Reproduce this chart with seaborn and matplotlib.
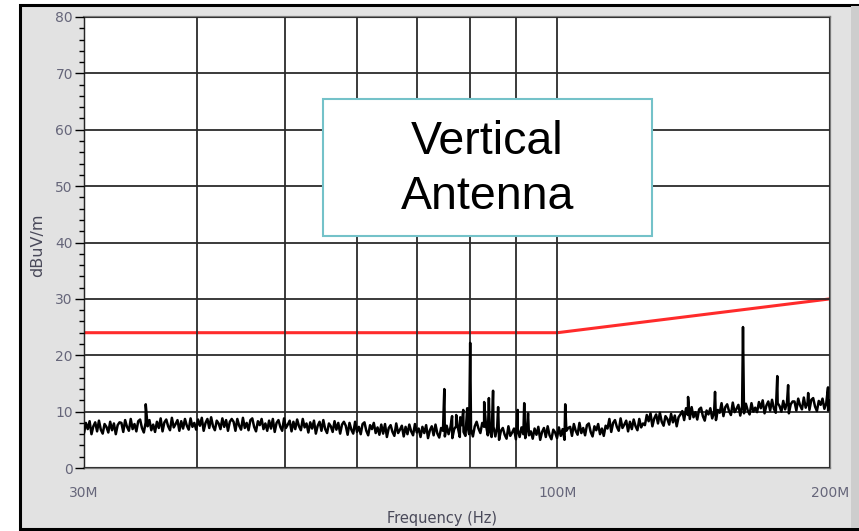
import numpy as np
import pandas as pd
import seaborn as sns
import matplotlib.pyplot as plt
from matplotlib.patches import Rectangle
from matplotlib.ticker import FixedLocator, MultipleLocator, NullFormatter

# measured noise floor (dBuV/m), sweep from 30M to 200M
floor_db = [
    6.2, 8.0, 6.9, 8.3, 6.0, 7.4, 8.1, 6.5, 8.4, 6.8, 6.1, 7.8, 7.3, 6.3, 8.2, 6.7, 7.9, 6.0, 7.6, 8.1,
    8.0, 6.4, 8.5, 7.3, 6.6, 8.7, 6.9, 7.8, 6.5, 8.3, 8.6, 7.1, 6.3, 8.1, 7.4, 8.5, 6.7, 7.7, 6.4, 8.2,
    7.1, 8.8, 6.5, 8.1, 8.6, 7.4, 6.7, 8.9, 7.2, 7.8, 8.5, 6.6, 8.3, 7.0, 8.7, 7.5, 6.8, 8.8, 7.3, 8.0,
    6.8, 8.6, 7.5, 8.9, 6.6, 8.0, 8.7, 7.1, 9.0, 7.4, 6.7, 8.4, 7.9, 6.9, 8.8, 7.3, 8.5, 6.6, 8.2, 8.7,
    8.2, 6.6, 8.7, 7.5, 6.8, 8.9, 7.1, 8.0, 6.7, 8.5, 8.8, 7.3, 6.5, 8.3, 7.6, 8.7, 6.9, 7.9, 6.6, 8.4,
    7.0, 8.7, 6.4, 8.0, 8.5, 7.3, 6.6, 8.8, 7.1, 7.7, 8.4, 6.5, 8.2, 6.9, 8.6, 7.4, 6.7, 8.7, 7.2, 7.9,
    6.3, 8.1, 7.0, 8.4, 6.1, 7.5, 8.2, 6.6, 8.5, 6.9, 6.2, 7.9, 7.4, 6.4, 8.3, 6.8, 8.0, 6.1, 7.7, 8.2,
    7.5, 5.9, 8.0, 6.8, 6.1, 8.2, 6.4, 7.3, 6.0, 7.8, 8.1, 6.6, 5.8, 7.6, 6.9, 8.0, 6.2, 7.2, 5.9, 7.7,
    6.1, 7.8, 5.5, 7.1, 7.6, 6.4, 5.7, 7.9, 6.2, 6.8, 7.5, 5.6, 7.3, 6.0, 7.7, 6.5, 5.8, 7.8, 6.3, 7.0,
    5.5, 7.3, 6.2, 7.6, 5.3, 6.7, 7.4, 5.8, 7.7, 6.1, 5.4, 7.1, 6.6, 5.6, 7.5, 6.0, 7.2, 5.3, 6.9, 7.4,
    7.1, 5.5, 7.6, 6.4, 5.7, 7.8, 6.0, 6.9, 5.6, 7.4, 8.2, 7.0, 6.2, 8.0, 7.3, 7.6, 5.8, 6.8, 5.5, 7.3,
    5.6, 7.3, 5.0, 6.6, 7.1, 5.9, 5.2, 7.4, 5.7, 6.3, 7.0, 5.1, 6.8, 5.5, 7.2, 6.0, 5.3, 7.3, 5.8, 6.5,
    5.2, 7.0, 5.9, 7.3, 5.0, 6.4, 7.1, 5.5, 7.4, 5.8, 5.1, 6.8, 6.3, 5.3, 7.2, 5.7, 6.9, 5.0, 6.6, 7.1,
    7.3, 5.7, 7.8, 6.6, 5.9, 8.0, 6.2, 7.1, 5.8, 7.6, 7.9, 6.4, 5.6, 7.4, 6.7, 7.8, 6.0, 7.0, 5.7, 7.5,
    7.0, 8.7, 6.4, 8.0, 8.5, 7.3, 6.6, 8.8, 7.1, 7.7, 8.4, 6.5, 8.2, 6.9, 8.6, 7.4, 6.7, 8.7, 7.2, 7.9,
    7.6, 9.4, 8.3, 9.7, 7.4, 8.8, 9.5, 7.9, 9.8, 8.2, 7.5, 9.2, 8.7, 7.7, 9.6, 8.1, 9.3, 7.4, 9.0, 9.5,
    10.1, 8.5, 10.6, 9.4, 8.7, 10.8, 9.0, 9.9, 8.6, 10.4, 10.7, 9.2, 8.4, 10.2, 9.5, 10.6, 8.8, 9.8, 8.5, 10.3,
    9.8, 11.5, 9.2, 10.8, 11.3, 10.1, 9.4, 11.6, 9.9, 10.5, 11.2, 9.3, 11.0, 9.7, 11.4, 10.2, 9.5, 11.5, 10.0, 10.7,
    9.9, 11.7, 10.6, 12.0, 9.7, 11.1, 11.8, 10.2, 12.1, 10.5, 9.8, 11.5, 11.0, 10.0, 11.9, 10.4, 11.6, 9.7, 11.3, 11.8,
    11.8, 10.2, 12.3, 11.1, 10.4, 12.5, 10.7, 11.6, 10.3, 12.1, 12.4, 10.9, 10.1, 11.9, 11.2, 12.3, 10.5, 11.5, 10.2, 12.0,
]

# narrow emissions above the floor
spike_mhz = [35.1, 75.0, 76.5, 77.3, 78.1, 78.7, 79.5, 80.1, 83.0, 84.0, 84.9,
             86.0, 90.4, 91.9, 92.8, 102.0, 139.4, 149.3, 160.3, 174.9, 179.8,
             189.2, 199.0]
spike_db = [11.3, 14.0, 9.2, 9.4, 9.0, 10.3, 10.6, 22.2, 11.7, 12.4, 13.7,
            10.8, 10.3, 11.5, 9.7, 11.3, 12.6, 13.5, 25.0, 16.3, 14.7,
            13.3, 14.3]

# limit line
limit_mhz = [30, 100, 200]
limit_db = [24, 24, 30]

xtick_hz = [30e6, 100e6, 200e6]
xtick_labels = ["30M", "100M", "200M"]
xgrid_hz = [40e6, 50e6, 60e6, 70e6, 80e6, 90e6]

sweep_mhz = np.geomspace(30, 200, len(floor_db))
trace = pd.DataFrame({
    "freq": np.concatenate([sweep_mhz, spike_mhz]) * 1e6,
    "level": np.concatenate([floor_db, spike_db]),
}).sort_values("freq")
limit = pd.DataFrame({"freq": np.array(limit_mhz) * 1e6, "level": limit_db})

sns.set_style("white")
plt.rcParams["font.family"] = ["DejaVu Sans"]

fig = plt.figure(figsize=(8.59, 5.31), dpi=100)
fig.patch.set_facecolor("white")

# grey panel with black frame
fig.add_artist(Rectangle((19.5 / 859, 2 / 531), 2.0, 524 / 531,
                         transform=fig.transFigure, facecolor="#e2e2e2",
                         edgecolor="black", linewidth=2.2, zorder=0))
fig.add_artist(Rectangle((851 / 859, 3 / 531), 8 / 859, 522 / 531,
                         transform=fig.transFigure, facecolor="#cdcdcd",
                         edgecolor="none", zorder=0.5))

ax = fig.add_axes([84 / 859, 63 / 531, 746 / 859, 451 / 531])
ax.set_facecolor("white")

sns.lineplot(data=limit, x="freq", y="level", estimator=None, sort=False,
             color="#ff2b2b", linewidth=2.2, ax=ax, zorder=2)
sns.lineplot(data=trace, x="freq", y="level", estimator=None, sort=False,
             color="black", linewidth=1.8, ax=ax, zorder=3)

ax.set_xscale("log")
ax.set_xlim(30e6, 200e6)
ax.set_ylim(0, 80)

ax.xaxis.set_major_locator(FixedLocator(xtick_hz))
ax.set_xticks(xtick_hz, xtick_labels)
ax.xaxis.set_minor_locator(FixedLocator(xgrid_hz))
ax.xaxis.set_minor_formatter(NullFormatter())
ax.yaxis.set_major_locator(MultipleLocator(10))
ax.yaxis.set_minor_locator(MultipleLocator(2))

ax.set_axisbelow(False)
ax.grid(True, which="major", axis="y", color="#2b2b2b", linewidth=1.3)
ax.grid(True, which="both", axis="x", color="#2b2b2b", linewidth=1.3)

ax.tick_params(axis="x", which="major", direction="out", length=4, width=1,
               color="#333333", pad=9, labelsize=10, labelcolor="#66667a")
ax.tick_params(axis="x", which="minor", length=0)
ax.tick_params(axis="y", which="major", direction="out", length=6.5, width=1,
               color="black", pad=1.5, labelsize=10, labelcolor="#66667a",
               left=True)
ax.tick_params(axis="y", which="minor", direction="out", length=3.5, width=1,
               color="black", left=True)

for side in ["top", "right", "bottom"]:
    ax.spines[side].set_color("#7a7a7a")
    ax.spines[side].set_linewidth(1.6)
ax.spines["left"].set_color("black")
ax.spines["left"].set_linewidth(1.0)

ax.set_xlabel("Frequency (Hz)", fontsize=10.5, color="#4a4a5a")
ax.set_ylabel("dBuV/m", fontsize=11.5, color="#4a4a5a")
ax.xaxis.set_label_coords(0.48, -0.096)
ax.yaxis.set_label_coords(-0.052, 0.494)

# annotation box
ax.add_patch(Rectangle((0.320, 0.514), 0.441, 0.304, transform=ax.transAxes,
                       facecolor="white", edgecolor="#74c2c9", linewidth=1.5,
                       zorder=4))
ax.text(0.5409, 0.662, "Vertical\nAntenna", transform=ax.transAxes,
        ha="center", va="center", fontsize=33.5, family="Liberation Sans",
        color="black", linespacing=1.34, zorder=5)

fig.savefig("out.png", dpi=100)
